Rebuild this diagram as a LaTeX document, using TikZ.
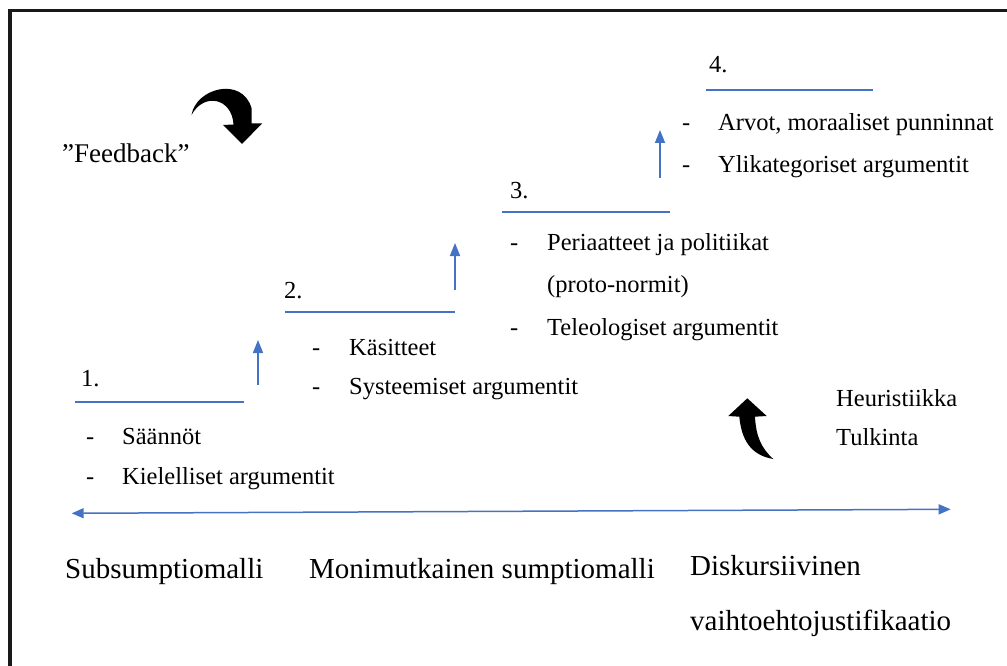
\documentclass[tikz,border=0pt]{standalone}
\usepackage{fontspec}
\setmainfont{Liberation Serif}
\usetikzlibrary{arrows.meta}
\definecolor{wblue}{HTML}{4472C4}
\begin{document}
\begin{tikzpicture}[x=1pt,y=-1pt,
  txt/.style={inner sep=0pt,anchor=base west,font=\fontsize{24.5}{28}\selectfont},
  big/.style={inner sep=0pt,anchor=base west,font=\fontsize{29}{34}\selectfont},
  uline/.style={wblue,line width=1.3pt},
  barrow/.style={wblue,line width=1.7pt,-{Triangle[width=10pt,length=13pt]}},
  darrow/.style={wblue,line width=1.5pt,{Triangle[width=10pt,length=12pt]}-{Triangle[width=10pt,length=12pt]}},
  blk/.style={fill=black,draw=none}]
\useasboundingbox (0,0) rectangle (1007,666);
% frame
\draw[line width=3.3pt,black!90,line join=miter] (10,666) -- (10,10.7) -- (1007,10.7);

% step 1
\node[txt] (n1) at (81,386) {1.};
\coordinate (u1a) at (75,402); \coordinate (u1b) at (244,402);
\draw[uline] (u1a) -- (u1b);
\node[txt] (s1a) at (86,444) {\makebox[36pt][l]{-}Säännöt};
\node[txt] (s1b) at (86,484) {\makebox[36pt][l]{-}Kielelliset argumentit};
\coordinate (a1s) at (258,385); \coordinate (a1e) at (258,340);
\draw[barrow] (a1s) -- (a1e);

% step 2
\node[txt] (n2) at (284,298) {2.};
\coordinate (u2a) at (285,312); \coordinate (u2b) at (455,312);
\draw[uline] (u2a) -- (u2b);
\node[txt] (s2a) at (312,355) {\makebox[37pt][l]{-}Käsitteet};
\node[txt] (s2b) at (312,394) {\makebox[37pt][l]{-}Systeemiset argumentit};
\coordinate (a2s) at (455,290); \coordinate (a2e) at (455,243);
\draw[barrow] (a2s) -- (a2e);

% step 3
\node[txt] (n3) at (510,198) {3.};
\coordinate (u3a) at (502,212); \coordinate (u3b) at (670,212);
\draw[uline] (u3a) -- (u3b);
\node[txt] (s3a) at (510,250) {\makebox[37pt][l]{-}Periaatteet ja politiikat};
\node[txt] (s3b) at (547,292) {(proto-normit)};
\node[txt] (s3c) at (510,335) {\makebox[37pt][l]{-}Teleologiset argumentit};
\coordinate (a3s) at (660,178); \coordinate (a3e) at (660,130);
\draw[barrow] (a3s) -- (a3e);

% step 4
\node[txt] (n4) at (709,73) {4.};
\coordinate (u4a) at (706,90); \coordinate (u4b) at (873,90);
\draw[uline] (u4a) -- (u4b);
\node[txt] (s4a) at (682,131) {\makebox[36pt][l]{-}Arvot, moraaliset punninnat};
\node[txt] (s4b) at (682,173) {\makebox[36pt][l]{-}Ylikategoriset argumentit};

% feedback
\node[txt,font=\fontsize{27}{31}\selectfont] (fb) at (62,163) {”Feedback”};
\fill[blk] (191.5,115) .. controls (196,88) and (242,76) .. (251.5,108)
  -- (251.5,123.5) -- (262,123.5) -- (242,144) -- (223,125) -- (233.5,124.5)
  .. controls (232,98) and (204,92) .. (191.5,115) -- cycle;

% heuristics
\node[txt] (h1) at (836,406) {Heuristiikka};
\node[txt] (h2) at (836,445) {Tulkinta};
\fill[blk] (773.3,459) .. controls (756,456) and (742,446) .. (739.3,416.7)
  -- (728.3,416) -- (747.3,398.3) -- (766.7,416) -- (755,416.7)
  .. controls (756,436) and (761,448) .. (773.3,459) -- cycle;

% axis
\coordinate (axl) at (71.7,513.3); \coordinate (axr) at (950.7,509.3);
\draw[darrow] (axl) -- (axr);

\node[big] (m1) at (65,578) {Subsumptiomalli};
\node[big] (m2) at (309,578) {Monimutkainen sumptiomalli};
\node[big] (m3) at (690,575) {Diskursiivinen};
\node[big] (m3b) at (690,630) {vaihtoehtojustifikaatio};
\end{tikzpicture}
\end{document}
